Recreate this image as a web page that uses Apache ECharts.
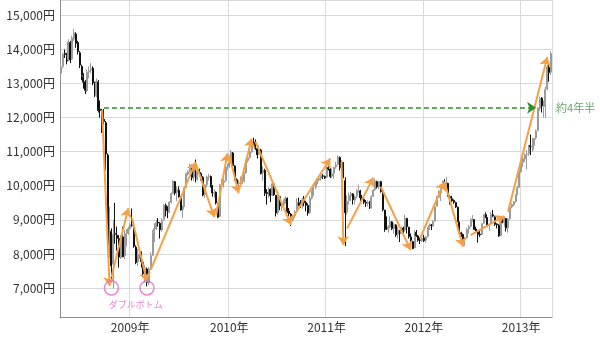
<!DOCTYPE html>
<html>
<head>
<meta charset="utf-8">
<script src="https://cdn.jsdelivr.net/npm/echarts@6/dist/echarts.min.js"></script>
<style>
html,body{margin:0;padding:0;background:#fff;}
#c{width:600px;height:339px;}
</style>
</head>
<body>
<div id="c"></div>
<script>
// Weekly candles, first week starting Monday 2008-04-14
const firstWeek = '2008-04-14';
const opens = [13300,13500,13880,13820,13700,14200,13720,14300,14450,14200,13900,13500,13200,13050,12780,13350,13400,13450,13000,12650,13050,12250,12200,11950,11850,10900,8300,8650,7700,8600,8550,8450,7900,8500,7950,8250,8600,8750,8850,8800,8200,7770,8000,8050,7760,7400,7560,7150,7600,7960,8650,8730,8930,8900,8700,9000,9420,9260,9240,9510,9780,10120,9800,9870,9660,9300,9410,9950,10340,10420,10580,10250,10520,10180,10450,10360,10250,9740,10030,10250,10270,10010,9780,9810,9480,9100,10030,10100,10150,10500,10560,10700,10960,10580,10180,10070,10080,10130,10140,10380,10740,10830,10990,11280,11210,11090,10920,11050,10380,10450,9800,9760,9890,9720,10050,9720,9220,9680,9400,9440,9530,9630,9260,9170,9000,9120,9250,9500,9480,9410,9580,9510,9420,9210,9640,9730,10010,10050,10170,10220,10290,10270,10250,10530,10490,10280,10370,10550,10620,10830,10540,10680,10150,9220,9560,9700,9760,9580,9690,9840,9850,9640,9600,9510,9480,9520,9360,9690,9880,10120,9960,10120,9800,9280,8970,8730,8790,8940,8750,8850,8570,8690,8620,8760,8700,9040,8780,8500,8360,8180,8630,8530,8410,8390,8470,8400,8510,8780,8850,8820,8960,9400,9660,9790,9940,10120,10000,10070,9680,9620,9570,9510,9370,8930,8620,8570,8430,8470,8730,8810,9000,9010,8730,8660,8580,8570,8900,9150,9060,8850,8880,9150,9100,8880,8850,8540,9010,8920,9040,8770,9030,9380,9440,9540,9750,9950,10410,10680,10790,10920,10940,11180,11140,11180,11400,11620,12270,12570,12330,12410,12840,13470,13330];
const closes = [13480,13860,13850,13660,14220,13690,14340,14490,14180,13940,13540,13240,13040,12800,13330,13380,13430,13020,12670,13070,12210,12210,11920,11890,10940,8280,8690,7650,8580,8580,8460,7910,8510,7920,8240,8590,8740,8860,8840,8230,7750,7990,8080,7780,7420,7570,7170,7570,7950,8630,8750,8920,8910,8710,8980,9430,9270,9230,9520,9770,10140,9790,9880,9680,9290,9400,9940,10360,10410,10600,10240,10530,10190,10440,10370,10270,9730,10020,10260,10280,10030,9790,9800,9500,9080,10020,10110,10140,10490,10550,10680,10980,10590,10200,10060,10090,10120,10130,10370,10750,10820,11000,11290,11200,11100,10910,11060,10360,10460,9780,9770,9900,9710,10060,9740,9200,9690,9410,9430,9540,9640,9250,9180,8990,9110,9240,9510,9470,9400,9590,9500,9430,9200,9630,9720,10020,10040,10180,10210,10300,10280,10230,10540,10500,10270,10360,10540,10610,10840,10530,10690,10250,9210,9540,9710,9770,9590,9680,9850,9860,9650,9610,9520,9490,9510,9350,9680,9870,10140,9970,10130,9830,9300,8960,8720,8800,8950,8740,8860,8560,8700,8610,8750,8680,9050,8800,8510,8370,8160,8640,8540,8400,8400,8460,8390,8500,8770,8840,8830,8950,9380,9650,9780,9930,10130,10010,10080,9690,9640,9560,9520,9380,8950,8610,8580,8440,8460,8720,8800,9010,9020,8720,8670,8570,8560,8890,9160,9070,8840,8870,9160,9110,8870,8860,8530,9000,8930,9050,8760,9020,9370,9450,9530,9740,9940,10400,10690,10800,10910,10930,11190,11150,11170,11390,11610,12280,12560,12340,12400,12830,13490,13320,13880];
const lows = [13100,13450,13750,13560,13650,13600,13700,14250,14050,13850,13450,13100,12850,12690,12750,13150,13300,12950,12600,12600,12150,12000,11550,11800,10450,8120,7880,7200,6990,8300,8100,7600,7850,7900,7850,8220,8560,8700,8800,8180,7700,7650,7850,7600,7350,7160,7050,7080,7550,7950,8350,8700,8800,8450,8650,8980,9100,9050,9200,9480,9750,9720,9550,9650,9270,9050,9380,9930,10300,10380,10150,10150,10100,10150,10300,10150,9690,9650,9950,10150,9950,9680,9650,9450,9050,9080,9950,9950,10120,10450,10520,10660,10520,10150,9930,9870,10050,10050,10100,10350,10680,10800,10970,11150,11050,10800,10900,10330,10150,9700,9450,9650,9520,9700,9700,9100,9150,9280,9250,9380,9480,9200,9100,8820,8950,9050,9200,9400,9350,9330,9400,9250,9120,9180,9600,9700,9900,9950,10130,10150,10200,10200,10240,10450,10230,10230,10200,10500,10600,10450,10450,10220,8230,9150,9450,9550,9450,9450,9640,9800,9550,9550,9460,9380,9400,9320,9330,9670,9850,9920,9900,9800,9250,8650,8700,8620,8750,8700,8600,8500,8450,8350,8600,8600,8650,8600,8450,8300,8140,8170,8500,8360,8290,8350,8350,8330,8480,8700,8700,8800,8950,9390,9650,9550,9920,9980,9950,9680,9450,9530,9470,9350,8930,8600,8500,8400,8240,8450,8600,8780,8950,8700,8650,8330,8500,8550,8880,9050,8800,8680,8850,9080,8820,8750,8500,8530,8900,8800,8660,8620,9000,9340,9400,9500,9720,9930,10380,10560,10700,10480,10880,10900,11000,11050,11350,11600,12200,12150,12000,12000,12800,13050,13250];
const highs = [13600,13900,14000,13900,14300,14250,14400,14600,14500,14250,13950,13550,13300,13100,13400,13500,13600,13500,13050,13150,13100,12500,12250,12250,11900,10950,9380,8750,9000,9500,8800,8550,8550,8800,8700,8730,8800,8900,9330,8850,8250,8150,8180,8070,7780,7680,7600,7620,8050,8700,8900,9000,9050,8930,9050,9470,9480,9400,9550,9800,10170,10140,9980,9980,9690,9420,9980,10380,10460,10650,10620,10600,10770,10470,10500,10400,10280,10050,10300,10350,10300,10020,9900,9830,9500,10050,10200,10250,10550,10650,10770,11050,10990,10600,10220,10160,10270,10250,10400,10780,10880,11050,11340,11410,11360,11150,11180,11080,10570,10500,9900,9960,9920,10160,10100,9730,9720,9700,9550,9600,9690,9660,9350,9200,9150,9280,9630,9650,9580,9640,9700,9560,9480,9700,9870,10050,10120,10220,10260,10380,10350,10300,10600,10620,10530,10500,10560,10700,10890,10860,10750,10700,10250,9720,9800,9820,9780,9720,9900,10030,9880,9730,9650,9580,9570,9550,9720,9900,10210,10150,10150,10140,9820,9300,9100,8850,9100,8960,8900,8870,8800,8700,8790,8800,9150,9060,8800,8600,8380,8700,8700,8560,8480,8500,8560,8530,8800,8900,8880,9000,9400,9700,9870,9950,10150,10190,10260,10090,9720,9700,9600,9530,9390,8950,8650,8600,8500,8770,8850,9050,9140,9020,8800,8680,8700,8900,9170,9220,9080,8900,9230,9290,9110,8900,8870,9050,9030,9100,9050,9050,9400,9480,9560,9760,10000,10450,10700,10900,10950,11050,11200,11500,11400,11410,11650,12300,12620,12600,12500,12900,13550,13570,13950];

// Y-axis range and tick step (yen)
const yMin = 6150, yMax = 15450;

// Trend arrows: [start week, start price, end week, end price]
const trendArrows = [
  ['2008-09-15', 12220, '2008-10-13', 7060],
  ['2008-10-20', 7320, '2008-12-22', 9340],
  ['2009-01-05', 9050, '2009-03-02', 7180],
  ['2009-03-16', 7530, '2009-08-31', 10700],
  ['2009-08-31', 10660, '2009-11-09', 9080],
  ['2009-11-16', 9140, '2009-12-28', 10950],
  ['2010-01-04', 10900, '2010-02-08', 9780],
  ['2010-02-15', 10070, '2010-03-29', 11390],
  ['2010-04-12', 11290, '2010-08-23', 8850],
  ['2010-08-23', 8990, '2011-01-17', 10800],
  ['2011-02-28', 10700, '2011-03-07', 8260],
  ['2011-03-21', 8750, '2011-06-27', 10240],
  ['2011-07-25', 9970, '2011-11-14', 8110],
  ['2011-12-19', 8460, '2012-03-19', 10120],
  ['2012-03-19', 10120, '2012-05-28', 8210],
  ['2012-06-25', 8550, '2012-10-29', 9110],
  ['2012-11-12', 9240, '2013-04-08', 13780]
];
// Horizontal "about 4.5 years" arrow
const recoverArrow = ['2008-09-22', 12290, '2013-02-25', 12290];
const recoverLabel = ['2013-04-22', 12290, '約4年半'];
// Double bottom markers
const bottoms = [['2008-10-20', 7000], ['2009-03-02', 7000]];
const bottomLabel = ['2009-01-19', 6500, 'ダブルボトム'];

// Build weekly category list (Monday of each week)
const weeks = [];
const t0 = Date.parse(firstWeek + 'T00:00:00Z');
for (let i = 0; i < closes.length; i++) {
  const d = new Date(t0 + i * 7 * 86400000);
  weeks.push(d.toISOString().slice(0, 10));
}
// ISO week 1 of each year gets the year label / gridline
function isYearStart(idx) {
  if (idx <= 0) return false;
  const th = d => new Date(Date.parse(d + 'T00:00:00Z') + 3 * 86400000).getUTCFullYear();
  return th(weeks[idx]) !== th(weeks[idx - 1]);
}
const candleData = weeks.map((w, i) => [opens[i], closes[i], lows[i], highs[i]]);

const FONT = '"Noto Sans CJK JP", "Noto Sans", sans-serif';
const ORANGE = '#f4a047';
const GREEN = '#2f8f2f';
const PINK = '#e466c8';

const chart = echarts.init(document.getElementById('c'), null, {renderer: 'canvas'});
chart.setOption({
  animation: false,
  backgroundColor: '#ffffff',
  grid: {left: 60, right: 48, top: 0, bottom: 22, containLabel: false},
  xAxis: {
    type: 'category',
    data: weeks,
    boundaryGap: true,
    axisLine: {show: true, lineStyle: {color: '#8c8c8c', width: 1}},
    axisTick: {show: false},
    axisLabel: {
      interval: (idx) => isYearStart(idx),
      formatter: (v) => {
        const y = new Date(Date.parse(v + 'T00:00:00Z') + 3 * 86400000).getUTCFullYear();
        return y + '年';
      },
      color: '#333', fontSize: 12, fontFamily: FONT, margin: 4
    },
    splitLine: {show: true, interval: (idx) => isYearStart(idx), lineStyle: {color: '#d9d9d9', width: 1}}
  },
  yAxis: {
    type: 'value',
    min: yMin, max: yMax,
    splitNumber: 9,
    axisLine: {show: true, lineStyle: {color: '#8c8c8c', width: 1}},
    axisTick: {show: false},
    axisLabel: {
      showMinLabel: false, showMaxLabel: false,
      formatter: (v) => (v % 1000 === 0 ? v.toLocaleString('en-US') + '円' : ''),
      color: '#333', fontSize: 12, fontFamily: FONT, margin: 5
    },
    splitLine: {show: true, lineStyle: {color: '#d9d9d9', width: 1}}
  },
  series: [
    {
      type: 'candlestick',
      data: candleData,
      barWidth: '80%',
      itemStyle: {color: '#f2f2f2', color0: '#111111', borderColor: '#9a9a9a', borderColor0: '#111111', borderWidth: 1},
      markLine: {
        silent: true,
        symbol: ['none', 'arrow'],
        symbolSize: 9,
        label: {show: false},
        lineStyle: {color: ORANGE, width: 2, type: 'solid'},
        data: trendArrows.map(a => [{coord: [a[0], a[1]]}, {coord: [a[2], a[3]]}])
      }
    },
    {
      type: 'scatter',
      data: bottoms,
      symbol: 'circle',
      symbolSize: 14,
      silent: true,
      itemStyle: {color: 'rgba(0,0,0,0)', borderColor: PINK, borderWidth: 1.5},
      z: 5
    },
    {
      type: 'scatter',
      silent: true,
      symbolSize: 0,
      data: [[bottomLabel[0], bottomLabel[1]]],
      label: {show: true, position: 'inside', formatter: bottomLabel[2], color: PINK, fontSize: 9, fontFamily: FONT},
      markLine: {
        silent: true,
        symbol: ['none', 'arrow'],
        symbolSize: 9,
        label: {show: false},
        lineStyle: {color: GREEN, width: 1.5, type: [5, 3]},
        data: [[{coord: [recoverArrow[0], recoverArrow[1]]}, {coord: [recoverArrow[2], recoverArrow[3]]}]]
      },
      z: 6
    },
    {
      type: 'scatter',
      silent: true,
      symbolSize: 0,
      data: [[recoverLabel[0], recoverLabel[1]]],
      label: {show: true, position: 'right', distance: 5, formatter: recoverLabel[2], color: '#3f8f3f', fontSize: 11, fontFamily: FONT},
      z: 6
    }
  ]
});
</script>
</body>
</html>
